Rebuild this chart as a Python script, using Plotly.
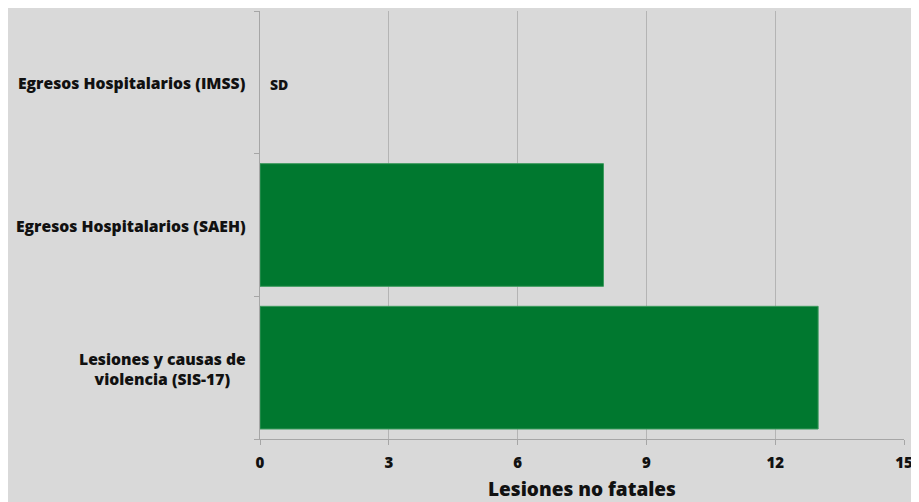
import plotly.graph_objects as go

categories = ["Lesiones y causas de<br>violencia (SIS-17)",
              "Egresos Hospitalarios (SAEH)",
              "Egresos Hospitalarios (IMSS)"]
values = [13, 8, None]
missing_label = "SD"
x_ticks = [0, 3, 6, 9, 12, 15]
x_title = "Lesiones no fatales"

FONT = "Open Sans"
BG = "#d9d9d9"
GREEN = "#00782f"
TXT = "#111111"

fig = go.Figure()
fig.add_trace(go.Bar(
    y=categories, x=values, orientation="h",
    marker=dict(color=GREEN, line=dict(color="#3d9a5e", width=1)),
    hoverinfo="x+y",
))

annotations = []
for cat, v in zip(categories, values):
    annotations.append(dict(
        x=0, y=cat, xref="paper", yref="y", text=cat, showarrow=False,
        xanchor="right", align="center", xshift=-12, yshift=-1,
        font=dict(family=FONT, size=15.7, color=TXT, weight=800),
    ))
    if v is None:
        annotations.append(dict(
            x=0, y=cat, xref="x", yref="y", text=missing_label, showarrow=False,
            xanchor="left", xshift=8, yshift=-2,
            font=dict(family=FONT, size=14, color=TXT, weight=800),
        ))

fig.update_layout(
    width=911, height=494,
    margin=dict(l=252, r=15, t=3, b=63),
    paper_bgcolor=BG, plot_bgcolor=BG,
    bargap=0.14, showlegend=False,
    annotations=annotations,
    xaxis=dict(range=[0, 15], tickvals=x_ticks, showgrid=True, automargin=False,
               gridcolor="#b4b4b4", gridwidth=1, zeroline=False,
               showline=True, linecolor="#a6a6a6", linewidth=1,
               ticks="outside", ticklen=5, tickcolor="#a6a6a6",
               ticklabelstandoff=5,
               tickfont=dict(family=FONT, size=15, color=TXT, weight=800),
               title=dict(text=x_title, standoff=17,
                          font=dict(family=FONT, size=19, color=TXT, weight=800))),
    yaxis=dict(type="category", categoryorder="array", categoryarray=categories,
               showticklabels=False, showgrid=False, zeroline=False, automargin=False,
               showline=True, linecolor="#a6a6a6", linewidth=1,
               ticks="outside", tickson="boundaries", ticklen=5,
               tickcolor="#a6a6a6", range=[-0.5, 2.5]),
)

fig.write_html(
    "out.html",
    post_script="document.documentElement.style.overflow='hidden';"
                "document.body.style.overflow='hidden';",
)
